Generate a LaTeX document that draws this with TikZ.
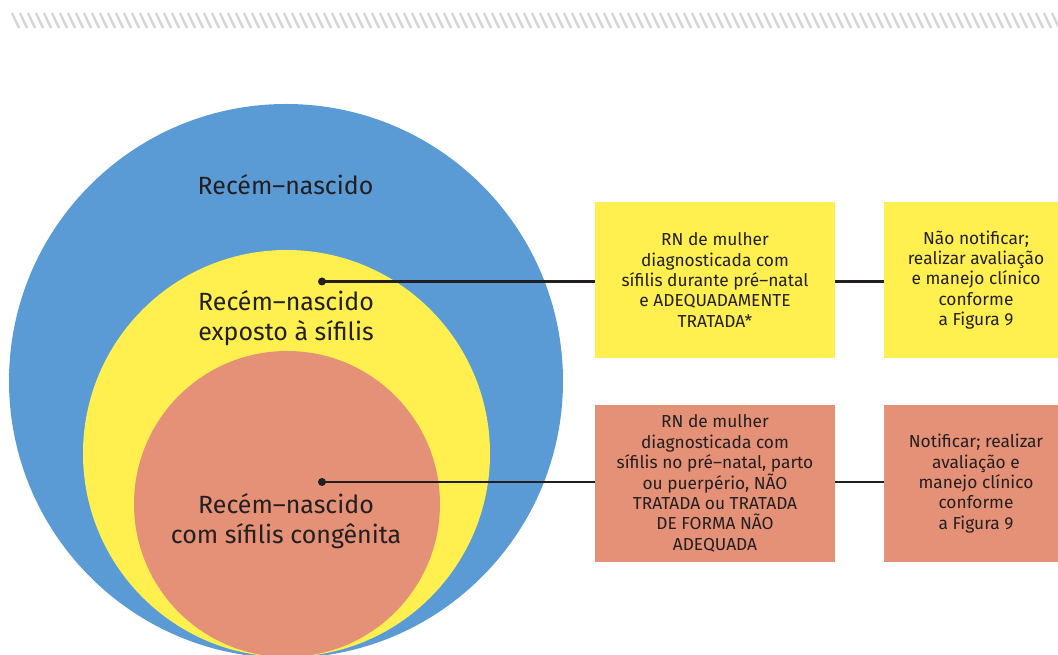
\documentclass[tikz,border=0pt]{standalone}
\usepackage{fontspec}
\setmainfont{Fira Sans}
\usetikzlibrary{positioning}
\definecolor{azul}{RGB}{91,155,213}
\definecolor{amarelo}{RGB}{255,240,80}
\definecolor{salmao}{RGB}{229,145,119}
\definecolor{textogris}{RGB}{35,31,32}
\definecolor{hachura}{RGB}{212,212,212}

\begin{document}
\begin{tikzpicture}[x=0.75pt,y=0.75pt,yscale=-1,xscale=1,
  caixa/.style={inner sep=0pt,align=center,text=textogris,font=\fontsize{13}{15.3}\selectfont},
  rotulo/.style={inner sep=0.75pt,align=center,text=textogris,font=\fontsize{18.7}{22.5}\selectfont},
  ligacao/.style={draw=textogris,line width=1.8pt},
  tracinho/.style={draw=hachura,line width=1.7pt}]
%set diagram to 1058 x 655
\path[use as bounding box] (0,0) rectangle (1058,655);
\clip (0,0) rectangle (1058,655);

%Hatched band
\foreach \i in {0,...,131}
  \draw[tracinho] ({12+8*\i},13) -- ({19+8*\i},28);

%Shape: Circle
\fill[azul] (286,381) circle (277);
%Shape: Circle
\fill[amarelo] (286.5,453.5) circle (203.5);
%Shape: Circle
\fill[salmao] (287,504) circle (153);

% Text Node
\node[rotulo] (rn) at (285.5,185) {Recém–nascido};
% Text Node
\node[rotulo] (rnexp) at (286,318) {Recém–nascido\\exposto à sífilis};
% Text Node
\node[rotulo] (rncong) at (286,521) {Recém–nascido\\com sífilis congênita};

%Boxes
\node[caixa,fill=amarelo,minimum width=180pt,minimum height=117pt] (tratada) at (715,280)
  {RN de mulher\\diagnosticada com\\sífilis durante pré–natal\\e ADEQUADAMENTE\\TRATADA*};
\node[caixa,fill=amarelo,minimum width=138pt,minimum height=117pt] (naonotif) at (976,280)
  {Não notificar;\\realizar avaliação\\e manejo clínico\\conforme\\a Figura 9};
\node[caixa,fill=salmao,minimum width=180pt,minimum height=117.75pt] (naotratada) at (715,483.5)
  {RN de mulher\\diagnosticada com\\sífilis no pré–natal, parto\\ou puerpério, NÃO\\TRATADA ou TRATADA\\DE FORMA NÃO\\ADEQUADA};
\node[caixa,fill=salmao,minimum width=138pt,minimum height=117.75pt] (notif) at (976,483.5)
  {Notificar; realizar\\avaliação e\\manejo clínico\\conforme\\a Figura 9};

%Connectors
\coordinate (pontoexp) at (322,281.5);
\coordinate (pontocong) at (322,482);
\draw[ligacao] (pontoexp) -- (pontoexp -| tratada.west);
\draw[ligacao] (pontoexp -| tratada.east) -- (pontoexp -| naonotif.west);
\draw[ligacao] (pontocong) -- (pontocong -| naotratada.west);
\draw[ligacao] (pontocong -| naotratada.east) -- (pontocong -| notif.west);
\fill[textogris] (pontoexp) circle (4);
\fill[textogris] (pontocong) circle (4);

\end{tikzpicture}
\end{document}
